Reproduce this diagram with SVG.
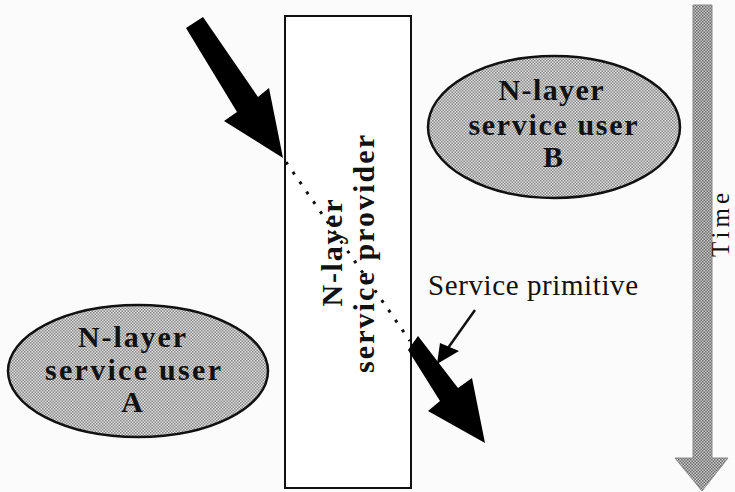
<svg xmlns="http://www.w3.org/2000/svg" width="735" height="492" viewBox="0 0 735 492">
<defs>
<pattern id="dither" patternUnits="userSpaceOnUse" width="3" height="3">
<rect width="3" height="3" fill="#e2e2e2"/>
<rect x="0" y="0" width="1.5" height="1.5" fill="#858585"/>
<rect x="1.5" y="1.5" width="1.5" height="1.5" fill="#858585"/>
</pattern>
<pattern id="dither2" patternUnits="userSpaceOnUse" width="3" height="3">
<rect width="3" height="3" fill="#cfcfcf"/>
<rect x="0" y="0" width="1.5" height="1.5" fill="#666"/>
<rect x="1.5" y="1.5" width="1.5" height="1.5" fill="#666"/>
</pattern>
<style>
.bold{font-family:"Liberation Serif","Times New Roman",serif;font-weight:bold;font-size:30px;fill:#111;}
.reg{font-family:"Liberation Serif","Times New Roman",serif;font-size:29px;fill:#111;}
.time{font-family:"Liberation Serif","Times New Roman",serif;font-size:25px;fill:#111;}
.user{fill:url(#dither);stroke:#111;stroke-width:2.5;}
.big{fill:#000;}
</style>
</defs>
<rect width="735" height="492" fill="#fbfbfb"/>

<g id="time">
<polygon points="693,5 712,5 712,458 728,458 702,491 675,458 693,458" fill="url(#dither2)" stroke="#888" stroke-width="1"/>
<text class="time" transform="translate(729,225) rotate(-90)" text-anchor="middle" textLength="64" lengthAdjust="spacing">Time</text>
</g>

<g id="provider">
<rect x="285" y="16" width="126" height="472" fill="#fff" stroke="#111" stroke-width="2"/>
<text class="bold" transform="translate(342,253) rotate(-90)" text-anchor="middle" textLength="107" lengthAdjust="spacing">N-layer</text>
<text class="bold" transform="translate(374,254) rotate(-90)" text-anchor="middle" textLength="238" lengthAdjust="spacing">service provider</text>
</g>

<g id="userA">
<ellipse class="user" cx="138" cy="371" rx="130" ry="66"/>
<text class="bold" x="132" y="347" text-anchor="middle" textLength="108" lengthAdjust="spacing">N-layer</text>
<text class="bold" x="133" y="380" text-anchor="middle" textLength="176" lengthAdjust="spacing">service user</text>
<text class="bold" x="132" y="412" text-anchor="middle">A</text>
</g>

<g id="userB">
<ellipse class="user" cx="554" cy="127" rx="126" ry="71"/>
<text class="bold" x="551" y="100" text-anchor="middle" textLength="105" lengthAdjust="spacing">N-layer</text>
<text class="bold" x="553" y="135" text-anchor="middle" textLength="169" lengthAdjust="spacing">service user</text>
<text class="bold" x="553" y="167" text-anchor="middle">B</text>
</g>

<g id="label">
<text class="reg" x="428" y="295" textLength="210" lengthAdjust="spacing">Service primitive</text>
</g>

<g id="connectors">
<polygon class="big" points="186,28 203,17 258,97 269,88 283,158 224,121 237,112"/>
<line x1="286" y1="162" x2="410" y2="341" stroke="#111" stroke-width="3" stroke-dasharray="3 9"/>
<polygon class="big" points="408,350 418,336 458,388 472,378 485,443 428,411 440,401"/>
<line x1="475" y1="310" x2="448" y2="348" stroke="#111" stroke-width="2.5"/>
<polygon class="big" points="437,364 440,343 459,351"/>
</g>
</svg>
